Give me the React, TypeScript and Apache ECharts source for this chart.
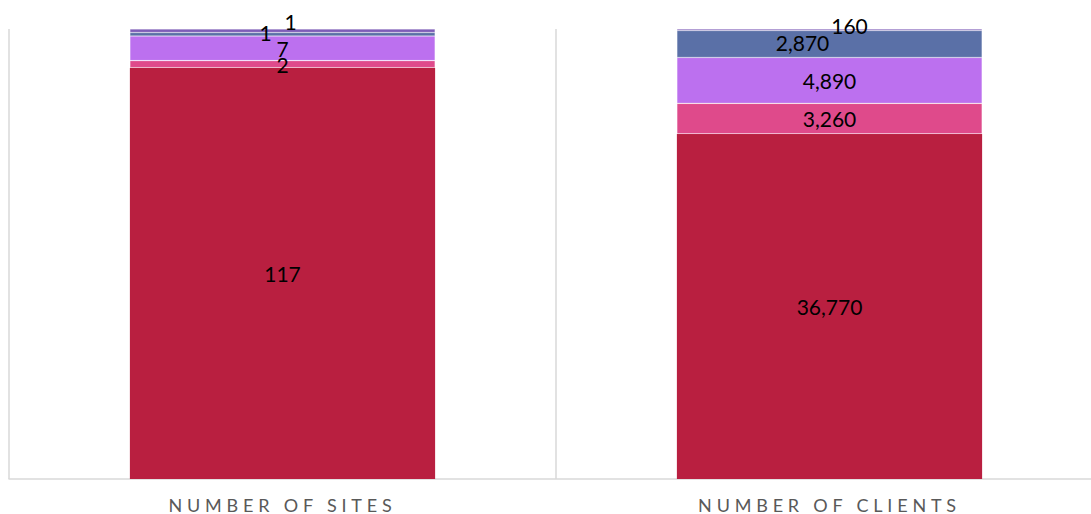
import React, { useEffect, useRef } from "react";
import * as echarts from "echarts";

const categories = ["NUMBER OF SITES", "NUMBER OF CLIENTS"];
const seriesNames = ["Segment 1", "Segment 2", "Segment 3", "Segment 4", "Segment 5"];
const segment1 = [117, 36770];
const segment2 = [2, 3260];
const segment3 = [7, 4890];
const segment4 = [1, 2870];
const segment5 = [1, 160];

const seriesValues = [segment1, segment2, segment3, segment4, segment5];
const seriesColors = ["#B91F40", "#DF4A8B", "#BC70EF", "#5A70A7", "#7E5DB8"];
// label offsets per series per category (pixels), matching the manually moved labels
const labelOffsets: number[][][] = [
  [[0, 0], [0, 0]],
  [[0, 0], [0, 0]],
  [[0, 0], [0, 0]],
  [[-17, -2], [-27, -1]],
  [[8, -9], [20, -4]],
];

export default function App() {
  const ref = useRef<HTMLDivElement>(null);
  useEffect(() => {
    const el = ref.current!;
    const chart = echarts.init(el, null, { renderer: "svg" });
    const totals = categories.map((_, i) =>
      seriesValues.reduce((s, arr) => s + arr[i], 0)
    );
    const fmt = (v: number) => v.toLocaleString("en-US");
    const series = seriesValues.map((vals, si) => ({
      name: seriesNames[si],
      type: "bar",
      stack: "total",
      barWidth: "55.8%",
      itemStyle: {
        color: seriesColors[si],
        borderColor: "rgba(255,255,255,0.35)",
        borderWidth: si === 0 ? 0 : 0.6,
      },
      label: {
        show: true,
        position: "inside",
        color: "#000",
        fontFamily: "Lato",
        fontSize: 21,
      },
      data: vals.map((v, ci) => ({
        value: (v / totals[ci]) * 100,
        label: {
          offset: labelOffsets[si][ci],
          formatter: () => fmt(v),
        },
      })),
    }));
    chart.setOption({
      animation: false,
      grid: { left: 9, right: 0, top: 29, bottom: 35, containLabel: false },
      xAxis: {
        type: "category",
        data: categories,
        axisLine: { show: true, lineStyle: { color: "#D9D9D9", width: 1.5 } },
        axisTick: { show: false },
        splitLine: { show: true, lineStyle: { color: "#D9D9D9", width: 1.5 } },
        axisLabel: {
          color: "#595959",
          fontFamily: "Lato",
          fontSize: 18,
          margin: 17,
        },
      },
      yAxis: {
        type: "value",
        min: 0,
        max: 100,
        show: false,
        splitLine: { show: false },
      },
      series,
    } as any);
    const applySpacing = () => {
      el.querySelectorAll("text").forEach((t) => {
        if (categories.includes((t.textContent || "").trim())) {
          t.setAttribute("letter-spacing", "4.8px");
        }
      });
    };
    applySpacing();
    chart.on("finished", applySpacing);
    return () => chart.dispose();
  }, []);
  return (
    <div style={{ position: "absolute", left: 0, top: 0, width: 1091, height: 514, overflow: "hidden" }}>
      <div ref={ref} style={{ width: 1103, height: 514 }} />
    </div>
  );
}
